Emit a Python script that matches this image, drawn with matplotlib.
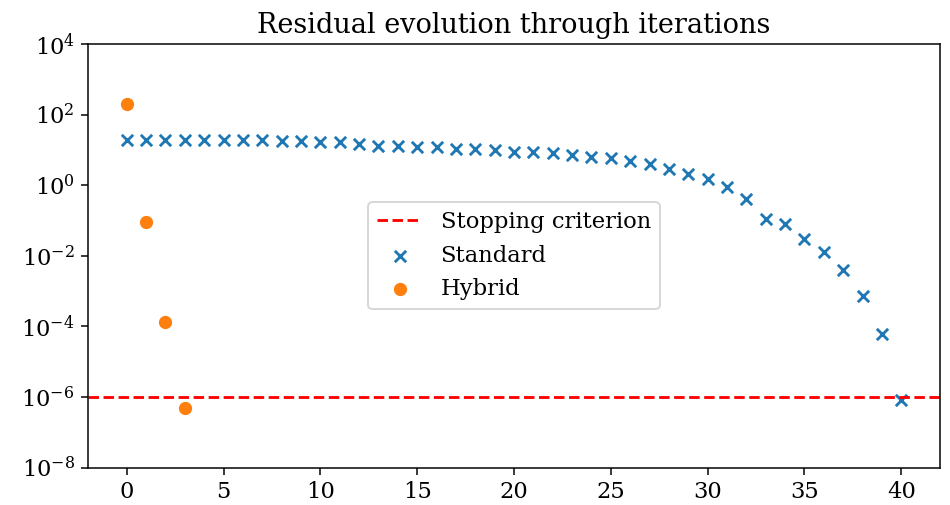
import numpy as np
import matplotlib
matplotlib.use("Agg")
import matplotlib.pyplot as plt

# residuals
standard_iter = list(range(41))
standard_res = [18.9, 18.9, 18.9, 18.9, 18.9, 18.9, 18.9, 18.9, 17.7, 17.7,
                16.2, 16.2, 14.5, 13.0, 13.0, 11.7, 11.7, 10.7, 10.7, 9.8,
                8.8, 8.8, 7.9, 7.1, 6.3, 5.7, 4.9, 3.9, 2.8, 2.1,
                1.48, 0.9, 0.40, 0.109, 0.077, 0.0295, 0.0129, 0.0039, 7.2e-4, 6.0e-5,
                8.1e-7]
hybrid_iter = [0, 1, 2, 3]
hybrid_res = [195, 0.091, 1.34e-4, 5.0e-7]
tolerance = 1e-6

plt.rcParams['font.family'] = 'serif'
plt.rcParams['font.size'] = 12

DPI = 136
fig = plt.figure(figsize=(950 / DPI, 505 / DPI), dpi=DPI)
ax = fig.add_axes([88 / 950, 1 - 467.5 / 505, (940 - 88) / 950, (467.5 - 44) / 505])

ax.axhline(tolerance, color='r', linestyle='--', label='Stopping criterion')
ax.scatter(standard_iter, standard_res, marker='x', label='Standard')
ax.scatter(hybrid_iter, hybrid_res, marker='o', label='Hybrid')
ax.set_yscale('log')
ax.set_ylim(1e-8, 1e4)
ax.set_yticks([1e-8, 1e-6, 1e-4, 1e-2, 1e0, 1e2, 1e4])
ax.minorticks_off()
ax.set_title('Residual evolution through iterations')
ax.legend(loc='center')

fig.savefig('out.png', dpi=DPI)
